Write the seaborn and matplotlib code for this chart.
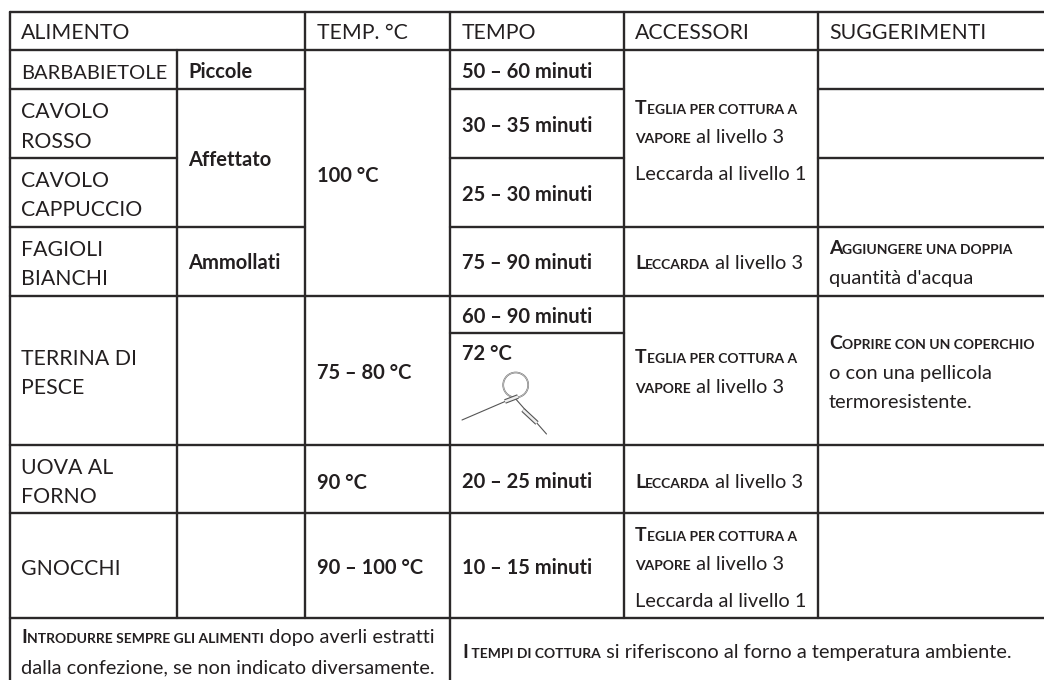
import matplotlib
matplotlib.use("Agg")
import matplotlib.pyplot as plt
import numpy as np
import pandas as pd
import seaborn as sns
from matplotlib.patches import Circle

sns.set_theme(style="white")
FONT = "Lato"
INK = "#231f20"

headers = [(21, 39, "ALIMENTO"), (317, 39, "TEMP. °C"), (462, 39, "TEMPO"),
           (635, 39, "ACCESSORI"), (829, 39, "SUGGERIMENTI")]
foods = [(21, 118, "CAVOLO"), (21, 148, "ROSSO"),
         (21, 187, "CAVOLO"), (21, 216, "CAPPUCCIO"), (21, 256, "FAGIOLI"),
         (21, 285, "BIANCHI"), (21, 365, "TERRINA DI"), (21, 394, "PESCE"),
         (21, 474, "UOVA AL"), (21, 503, "FORNO"), (21, 575, "GNOCCHI")]
long_food = (21, 79, "BARBABIETOLE")
bold_cells = [(188, 78, "Piccole"), (188, 166, "Affettato"), (188, 269, "Ammollati"),
              (317, 182, "100 °C"), (317, 379, "75 – 80 °C"), (317, 489, "90 °C"),
              (317, 574, "90 – 100 °C"), (462, 78, "50 – 60 minuti"),
              (462, 132, "30 – 35 minuti"), (462, 201, "25 – 30 minuti"),
              (462, 269, "75 – 90 minuti"), (462, 323, "60 – 90 minuti"),
              (462, 360, "72 °C"), (462, 488, "20 – 25 minuti"), (462, 574, "10 – 15 minuti")]
mixed_cells = [
    (635, 114, "Teglia per cottura a", ""), (635, 143, "vapore", " al livello 3"),
    (635, 180, "", "Leccarda al livello 1"), (635, 269, "Leccarda", " al livello 3"),
    (635, 363, "Teglia per cottura a", ""), (635, 393, "vapore", " al livello 3"),
    (635, 488, "Leccarda", " al livello 3"), (635, 541, "Teglia per cottura a", ""),
    (635, 570, "vapore", " al livello 3"), (635, 607, "", "Leccarda al livello 1"),
    (829, 254, "Aggiungere una doppia", ""), (829, 284, "", "quantità d'acqua"),
    (829, 349, "Coprire con un coperchio", ""), (829, 379, "", "o con una pellicola"),
    (829, 408, "", "termoresistente."),
    (21, 643, "Introdurre sempre gli alimenti", " dopo averli estratti"),
    (21, 673, "", "dalla confezione, se non indicato diversamente."),
    (462, 658, "I tempi di cottura", " si riferiscono al forno a temperatura ambiente."),
]
rules = [
    (10, 12, 1044, 12), (10, 50, 1044, 50),
    (10, 89, 305, 89), (450, 89, 624, 89), (818, 89, 1044, 89),
    (10, 158, 177, 158), (450, 158, 624, 158), (818, 158, 1044, 158),
    (10, 227, 305, 227), (450, 227, 1044, 227),
    (10, 295.5, 1044, 295.5), (450, 333, 624, 333), (10, 445, 1044, 445),
    (10, 513, 1044, 513), (10, 618, 1044, 618),
    (10, 12, 10, 680), (177, 50, 177, 618), (305, 12, 305, 618),
    (450, 12, 450, 680), (624, 12, 624, 618), (818, 12, 818, 618),
]
probe_ring = (515.7, 385, 12.5)
probe_wires = [[(462, 420), (505, 401.5)], [(514, 397), (546.5, 434)]]
probe_bodies = [[(505, 401.5), (518, 396.5)], [(523, 410), (537, 423)]]

seg = pd.DataFrame(
    [(i, x, y) for i, (x0, y0, x1, y1) in enumerate(rules) for x, y in ((x0, y0), (x1, y1))],
    columns=["seg", "x", "y"],
)

fig = plt.figure(figsize=(10.44, 6.8), dpi=100)
ax = fig.add_axes([0, 0, 1, 1])
sns.lineplot(data=seg, x="x", y="y", units="seg", estimator=None, sort=False,
             color="#2b2829", lw=1.7, ax=ax, legend=False)
ax.set_xlim(0, 1044)
ax.set_ylim(680, 0)
ax.axis("off")

BIG, BIG_LONG, BODY, BOLD, CAP, SMALL = 15.3, 14.5, 14.4, 14.5, 14.0, 10.0
rend = fig.canvas.get_renderer()


def width(s, size, weight):
    def w(t):
        tt = ax.text(0, 0, t, fontsize=size, fontweight=weight, family=FONT)
        e = tt.get_window_extent(rend).width
        tt.remove()
        return e
    return w("x" + s + "x") - w("xx")


def put(x, y, s, size, weight="normal"):
    ax.text(x, y, s, fontsize=size, fontweight=weight, family=FONT, color=INK, va="baseline")
    return x + width(s, size, weight)


def small_caps(x, y, s):
    if s[0].isupper():
        x = put(x, y, s[0], CAP, "bold")
        s = s[1:]
    return put(x, y, s.upper(), SMALL, "bold")


for x, y, s in headers + foods:
    put(x, y, s, BIG)
put(*long_food, BIG_LONG)
for x, y, s in bold_cells:
    put(x, y, s, BOLD, "bold")
for x, y, caps, tail in mixed_cells:
    if caps:
        x = small_caps(x, y, caps)
    if tail:
        put(x, y, tail, BODY)

ax.add_patch(Circle(probe_ring[:2], probe_ring[2], fill=False, ec="#6f6f6f", lw=1.2))
ax.add_patch(Circle(probe_ring[:2], probe_ring[2], fill=False, ec="#e4e4e4", lw=0.4))
for a, b in probe_wires:
    ax.plot(*zip(a, b), color="#555555", lw=0.8)
for a, b in probe_bodies:
    ax.plot(*zip(a, b), color="#555555", lw=3.4, solid_capstyle="butt")
    ax.plot(*zip(a, b), color="#eeeeee", lw=1.8, solid_capstyle="butt")

fig.savefig("out.png", dpi=100)
